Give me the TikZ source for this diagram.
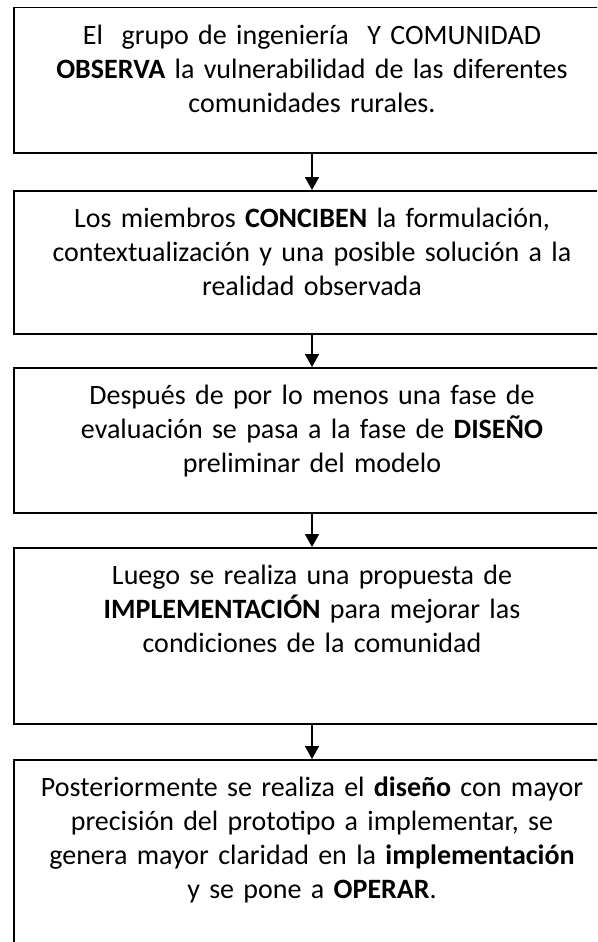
\documentclass[tikz,border=0pt]{standalone}
\usepackage{fontspec}
\setmainfont{Carlito}
\usetikzlibrary{arrows.meta}
\begin{document}
\begin{tikzpicture}[x=1pt,y=1pt,
  stepbox/.style={draw=black, line width=1.5pt, text width=584pt, inner xsep=6pt,
    inner ysep=0pt, align=center, anchor=north, text height=37pt,
    font=\fontsize{28}{34}\selectfont},
  flow/.style={line width=1.8pt, -{Triangle[length=13pt,width=14pt]}}]
\useasboundingbox (0,0) rectangle (597,-942);
\fill[white] (0,0) rectangle (597,-942);
\clip (0,0) rectangle (597,-942);
% steps
\node[stepbox, text depth=108pt] (obs) at (312,-7)
  {El\ \ grupo de ingeniería\ \ Y COMUNIDAD\\
   \textbf{OBSERVA} la vulnerabilidad de las diferentes\\
   comunidades rurales.};
\node[stepbox, text depth=106pt] (conc) at (312,-190)
  {Los miembros \textbf{CONCIBEN} la formulación,\\
   contextualización y una posible solución a la\\
   realidad observada};
\node[stepbox, text depth=108pt] (dis) at (312,-367)
  {Después de por lo menos una fase de\\
   evaluación se pasa a la fase de \textbf{DISEÑO}\\
   preliminar del modelo};
\node[stepbox, text depth=139pt] (impl) at (312,-547)
  {Luego se realiza una propuesta de\\
   \textbf{IMPLEMENTACIÓN} para mejorar las\\
   condiciones de la comunidad};
\node[stepbox, text depth=170pt] (oper) at (312,-759)
  {Posteriormente se realiza el \textbf{diseño} con mayor\\
   precisión del prototipo a implementar, se\\
   genera mayor claridad en la \textbf{implementación}\\
   y se pone a \textbf{OPERAR}.};
% arrows
\draw[flow] (obs.south) -- (conc.north);
\draw[flow] (conc.south) -- (dis.north);
\draw[flow] (dis.south) -- (impl.north);
\draw[flow] (impl.south) -- (oper.north);
\end{tikzpicture}
\end{document}
